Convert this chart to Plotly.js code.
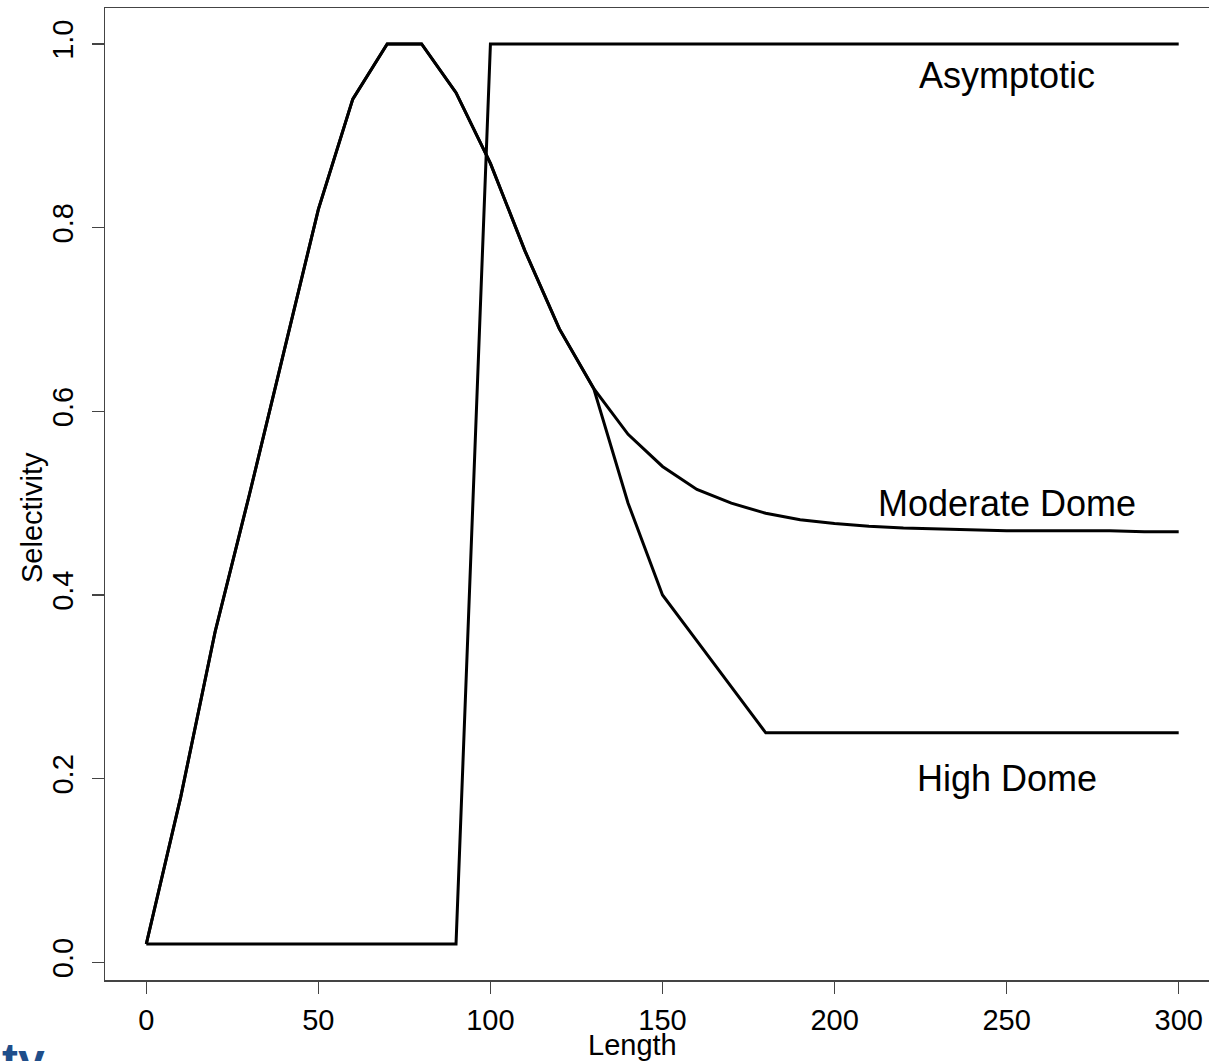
<!DOCTYPE html>
<html>
<head>
<meta charset="utf-8">
<script src="https://cdn.plot.ly/plotly-3.0.1.min.js"></script>
<style>
  html, body { margin: 0; padding: 0; overflow: hidden; background: #fff; width: 1209px; height: 1061px; }
  #chart { width: 1240px; height: 1061px; }
</style>
</head>
<body>
<div id="chart"></div>
<script>
// Lengths (x) and selectivity values
const asymLength = [0, 90, 100, 300];
const asymSel    = [0.02, 0.02, 1.0, 1.0];

const domeLength = [0, 10, 20, 30, 40, 50, 60, 70, 80, 90, 100, 110, 120, 130,
                    140, 150, 160, 170, 180, 190, 200, 210, 220, 230, 240, 250, 260, 270, 280, 290, 300];
const moderateSel = [0.02, 0.18, 0.36, 0.51, 0.665, 0.82, 0.94, 1.0, 1.0, 0.947, 0.87, 0.775, 0.69, 0.625,
                     0.575, 0.54, 0.515, 0.5, 0.489, 0.482, 0.478, 0.475, 0.473, 0.472, 0.471, 0.47, 0.47, 0.47, 0.47, 0.469, 0.469];
const highSel     = [0.02, 0.18, 0.36, 0.51, 0.665, 0.82, 0.94, 1.0, 1.0, 0.947, 0.87, 0.775, 0.69, 0.625,
                     0.5, 0.4, 0.35, 0.3, 0.25, 0.25, 0.25, 0.25, 0.25, 0.25, 0.25, 0.25, 0.25, 0.25, 0.25, 0.25, 0.25];

const xTicks = [0, 50, 100, 150, 200, 250, 300];
const yTicks = [0.0, 0.2, 0.4, 0.6, 0.8, 1.0];
const yTickText = ["0.0", "0.2", "0.4", "0.6", "0.8", "1.0"];

const curveLabels = ["Asymptotic", "Moderate Dome", "High Dome"];
const labelX = [250, 250, 250];
const labelY = [0.966, 0.5, 0.2];

const FONT = "Liberation Sans, Arial, Helvetica, sans-serif";
const lineStyle = {color: "#000", width: 3};

const traces = [
  {x: asymLength, y: asymSel, mode: "lines", line: lineStyle, name: curveLabels[0]},
  {x: domeLength, y: moderateSel, mode: "lines", line: lineStyle, name: curveLabels[1]},
  {x: domeLength, y: highSel, mode: "lines", line: lineStyle, name: curveLabels[2]}
];

const annotations = curveLabels.map((t, i) => ({
  x: labelX[i], y: labelY[i], xref: "x", yref: "y", text: t, showarrow: false,
  xanchor: "center", yanchor: "middle", font: {family: FONT, size: 36, color: "#000"}
}));
annotations.push({
  x: (632 - 105) / 1115, y: -0.067, xref: "paper", yref: "paper", text: "Length", showarrow: false,
  xanchor: "center", yanchor: "middle", font: {family: FONT, size: 29, color: "#000"}
});
annotations.push({
  x: -(105 - 32) / 1115, y: (980 - 518) / 972, xref: "paper", yref: "paper", text: "Selectivity", showarrow: false,
  textangle: -90, xanchor: "center", yanchor: "middle", font: {family: FONT, size: 29, color: "#000"}
});
annotations.push({
  x: -(105 - 0) / 1115, y: -0.054, xref: "paper", yref: "paper", text: "<b>ty</b>", showarrow: false,
  xanchor: "left", yanchor: "top", font: {family: FONT, size: 48, color: "#1f4e8a"}
});

const layout = {
  width: 1240, height: 1061,
  margin: {l: 105, r: 20, t: 8, b: 81, pad: 0},
  paper_bgcolor: "#fff", plot_bgcolor: "#fff",
  showlegend: false,
  xaxis: {
    range: [-12, 312], tickvals: xTicks, ticktext: xTicks.map(String),
    showgrid: false, zeroline: false, showline: true, mirror: true,
    linecolor: "#444", linewidth: 1.5, ticks: "outside", ticklen: 12, tickwidth: 1.5, tickcolor: "#444",
    tickfont: {family: FONT, size: 29, color: "#000"}, ticklabelstandoff: 2
  },
  yaxis: {
    range: [-0.0192, 1.0392], tickvals: yTicks, ticktext: yTickText,
    showgrid: false, zeroline: false, showline: true, mirror: true,
    linecolor: "#444", linewidth: 1.5, ticks: "outside", ticklen: 12, tickwidth: 1.5, tickcolor: "#444",
    tickangle: -90, tickfont: {family: FONT, size: 29, color: "#000"}, ticklabelstandoff: 7
  },
  annotations: annotations
};

Plotly.newPlot("chart", traces, layout, {displayModeBar: false, staticPlot: true});
</script>
</body>
</html>
